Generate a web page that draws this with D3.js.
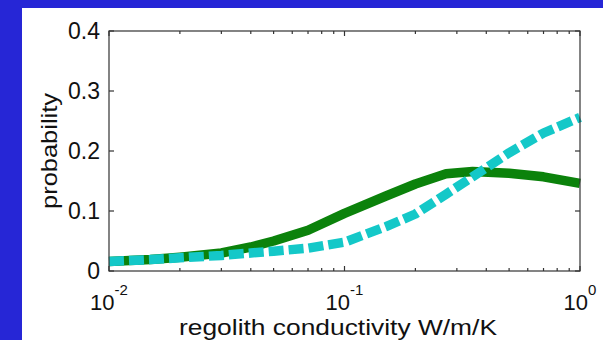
<!DOCTYPE html>
<html>
<head>
<meta charset="utf-8">
<script src="https://cdn.jsdelivr.net/npm/d3@7"></script>
<style>
html,body{margin:0;padding:0;background:#2626d6;}
svg{display:block;}
text{font-family:"Liberation Sans",Arial,Helvetica,sans-serif;fill:#111;}
</style>
</head>
<body>
<svg id="chart" width="603" height="340"></svg>
<script>
// Data
const conductivity = [0.01, 0.015, 0.02, 0.03, 0.04, 0.05, 0.07, 0.1, 0.15, 0.2, 0.27, 0.35, 0.5, 0.7, 1.0];
const greenSeries  = [0.016, 0.019, 0.023, 0.030, 0.040, 0.050, 0.068, 0.096, 0.125, 0.145, 0.162, 0.166, 0.163, 0.157, 0.146];
const cyanSeries   = [0.016, 0.019, 0.022, 0.026, 0.030, 0.033, 0.038, 0.048, 0.074, 0.095, 0.128, 0.157, 0.197, 0.230, 0.256];
const yTicks = [0, 0.1, 0.2, 0.3, 0.4];
const yTickLabels = ["0", "0.1", "0.2", "0.3", "0.4"];
const xMajorTicks = [0.01, 0.1, 1];
const xTickExponents = ["-2", "-1", "0"];
const xLabel = "regolith conductivity W/m/K";
const yLabel = "probability";

const svg = d3.select("#chart");
// white panel on blue background
svg.append("rect").attr("x", 22).attr("y", 8).attr("width", 603 - 22).attr("height", 340 - 8).attr("fill", "#ffffff");

const pLeft = 109, pRight = 580, pTop = 31, pBottom = 271;
const x = d3.scaleLog().domain([0.01, 1]).range([pLeft, pRight]);
const y = d3.scaleLinear().domain([0, 0.4]).range([pBottom, pTop]);

// minor ticks
const xMinor = [];
[0.01, 0.1].forEach(d => { for (let k = 2; k <= 9; k++) xMinor.push(d * k); });

const g = svg.append("g");

// curves
const line = d3.line().x((d, i) => x(conductivity[i])).y(d => y(d));
g.append("path").datum(greenSeries).attr("d", line)
  .attr("fill", "none").attr("stroke", "#0b820b").attr("stroke-width", 9.5).attr("stroke-linejoin", "round");
g.append("path").datum(cyanSeries).attr("d", line)
  .attr("fill", "none").attr("stroke", "#14c8c8").attr("stroke-width", 9.5)
  .attr("stroke-dasharray", "15,5").attr("stroke-linejoin", "round");

// box
g.append("rect").attr("x", pLeft).attr("y", pTop).attr("width", pRight - pLeft).attr("height", pBottom - pTop)
  .attr("fill", "none").attr("stroke", "#333").attr("stroke-width", 1.2);

// ticks (inward)
const tickG = g.append("g").attr("stroke", "#333").attr("stroke-width", 1.2);
xMajorTicks.forEach(t => {
  tickG.append("line").attr("x1", x(t)).attr("x2", x(t)).attr("y1", pBottom).attr("y2", pBottom - 5);
  tickG.append("line").attr("x1", x(t)).attr("x2", x(t)).attr("y1", pTop).attr("y2", pTop + 5);
});
xMinor.forEach(t => {
  tickG.append("line").attr("x1", x(t)).attr("x2", x(t)).attr("y1", pBottom).attr("y2", pBottom - 3);
  tickG.append("line").attr("x1", x(t)).attr("x2", x(t)).attr("y1", pTop).attr("y2", pTop + 3);
});
yTicks.forEach(t => {
  tickG.append("line").attr("x1", pLeft).attr("x2", pLeft + 5).attr("y1", y(t)).attr("y2", y(t));
  tickG.append("line").attr("x1", pRight).attr("x2", pRight - 5).attr("y1", y(t)).attr("y2", y(t));
});

// y tick labels
yTicks.forEach((t, i) => {
  g.append("text").attr("x", 100).attr("y", y(t) + 8).attr("text-anchor", "end")
    .attr("font-size", 23).text(yTickLabels[i]);
});

// x tick labels 10^n
xMajorTicks.forEach((t, i) => {
  const tx = g.append("text").attr("x", x(t)).attr("y", 310).attr("text-anchor", "middle").attr("font-size", 22);
  tx.append("tspan").text("10");
  tx.append("tspan").attr("font-size", 15).attr("dy", -15).text(xTickExponents[i]);
});

// axis labels
g.append("text").attr("x", 338).attr("y", 335).attr("text-anchor", "middle")
  .attr("font-size", 22).attr("textLength", 318).attr("lengthAdjust", "spacingAndGlyphs").text(xLabel);
g.append("text").attr("transform", "translate(57,151) rotate(-90)").attr("text-anchor", "middle")
  .attr("font-size", 22).attr("textLength", 116).attr("lengthAdjust", "spacingAndGlyphs").text(yLabel);
</script>
</body>
</html>
